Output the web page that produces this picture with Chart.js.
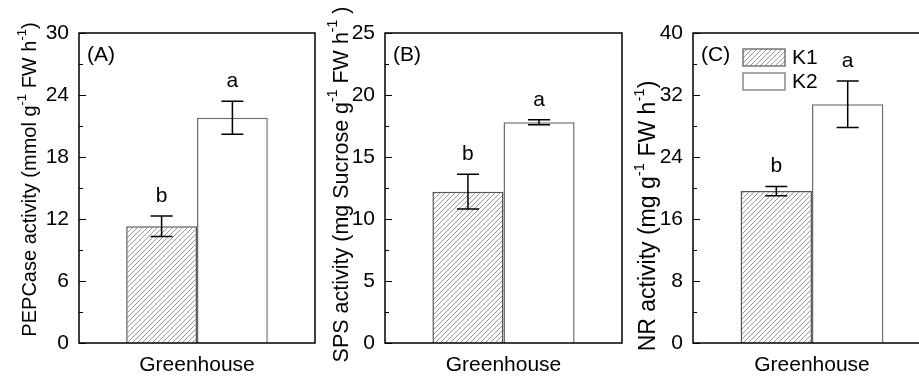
<!DOCTYPE html>
<html>
<head>
<meta charset="utf-8">
<script src="https://cdn.jsdelivr.net/npm/chart.js@4.4.1/dist/chart.umd.min.js"></script>
<style>
  html, body { margin: 0; padding: 0; background: #fff; }
  body { width: 919px; height: 381px; overflow: hidden; position: relative; }
  .panel { position: absolute; top: 0; }
</style>
</head>
<body>
<div class="panel" style="left:0px"><canvas id="chartA" width="318" height="381"></canvas></div>
<div class="panel" style="left:318px"><canvas id="chartB" width="308" height="381"></canvas></div>
<div class="panel" style="left:626px"><canvas id="chartC" width="310" height="381"></canvas></div>
<script>
// ── Données ──────────────────────────────────────────────────────────────────
const categories = ['Greenhouse'];
const seriesNames = ['K1', 'K2'];

const pepcaseMean = [11.3, 21.8];
const pepcaseErr  = [1.0, 1.6];
const pepcaseSig  = ['b', 'a'];

const spsMean = [12.2, 17.8];
const spsErr  = [1.4, 0.2];
const spsSig  = ['b', 'a'];

const nrMean = [19.6, 30.8];
const nrErr  = [0.6, 3.0];
const nrSig  = ['b', 'a'];

// titres d'axe : segments normal / exposant en alternance
const pepcaseTitle = ['PEPCase activity (mmol g', '-1', ' FW h', '-1', ')'];
const spsTitle     = ['SPS activity (mg Sucrose g', '-1', ' FW h', '-1', ' )'];
const nrTitle      = ['NR activity (mg g', '-1', ' FW h', '-1', ')'];

const pepcaseTicks = { max: 30, step: 6 };
const spsTicks     = { max: 25, step: 5 };
const nrTicks      = { max: 40, step: 8 };

const FONT = "'Liberation Sans', Arial, sans-serif";

// ── Hachures ────────────────────────────────────────────────────────────────
function hatchPattern() {
  const s = 5;
  const c = document.createElement('canvas');
  c.width = s;
  c.height = s;
  const g = c.getContext('2d');
  g.fillStyle = '#fff';
  g.fillRect(0, 0, s, s);
  g.strokeStyle = '#8a8a8a';
  g.lineWidth = 0.9;
  g.beginPath();
  g.moveTo(0, s); g.lineTo(s, 0);
  g.moveTo(-1, 1); g.lineTo(1, -1);
  g.moveTo(s - 1, s + 1); g.lineTo(s + 1, s - 1);
  g.stroke();
  return g.createPattern(c, 'repeat');
}
const hatch = hatchPattern();

// ── Plugin : cadre, graduations, barres d'erreur, lettres, titre ────────────
function panelPlugin(cfg) {
  return {
    id: 'panel' + cfg.tag,
    afterDatasetsDraw(chart) {
      const ctx = chart.ctx;
      const y = chart.scales.y;
      ctx.save();
      ctx.strokeStyle = '#000';
      ctx.lineWidth = 1.5;
      chart.data.datasets.forEach((ds, i) => {
        const bar = chart.getDatasetMeta(i).data[0];
        const top = y.getPixelForValue(cfg.mean[i] + cfg.err[i]);
        const bot = y.getPixelForValue(cfg.mean[i] - cfg.err[i]);
        ctx.beginPath();
        ctx.moveTo(bar.x, top); ctx.lineTo(bar.x, bot);
        ctx.moveTo(bar.x - 11, top); ctx.lineTo(bar.x + 11, top);
        ctx.moveTo(bar.x - 11, bot); ctx.lineTo(bar.x + 11, bot);
        ctx.stroke();

        ctx.fillStyle = '#000';
        ctx.font = '21px ' + FONT;
        ctx.textAlign = 'center';
        ctx.textBaseline = 'alphabetic';
        ctx.fillText(cfg.sig[i], bar.x, top - 14);
      });
      ctx.restore();
    },
    afterDraw(chart) {
      const ctx = chart.ctx;
      const a = chart.chartArea;
      const y = chart.scales.y;
      ctx.save();

      // cadre
      ctx.strokeStyle = '#000';
      ctx.lineWidth = 1.5;
      ctx.strokeRect(a.left, a.top, a.right - a.left, a.bottom - a.top);

      // graduations vers l'intérieur (majeures + mineures)
      ctx.lineWidth = 1.2;
      ctx.beginPath();
      for (let v = 0; v <= cfg.ticks.max; v += cfg.ticks.step / 2) {
        const py = Math.round(y.getPixelForValue(v)) + 0.5;
        const major = Math.abs(v / cfg.ticks.step - Math.round(v / cfg.ticks.step)) < 1e-6;
        ctx.moveTo(a.left, py);
        ctx.lineTo(a.left + (major ? 7 : 4), py);
      }
      ctx.stroke();

      // étiquette du panneau
      ctx.fillStyle = '#000';
      ctx.font = '21px ' + FONT;
      ctx.textAlign = 'left';
      ctx.textBaseline = 'alphabetic';
      ctx.fillText('(' + cfg.tag + ')', a.left + 8, a.top + 28);

      // titre de l'axe y avec exposants
      const fs = cfg.titleSize;
      const ss = Math.round(fs * 0.65);
      let total = 0;
      cfg.title.forEach((t, k) => {
        ctx.font = (k % 2 ? ss : fs) + 'px ' + FONT;
        total += ctx.measureText(t).width;
      });
      ctx.translate(cfg.titleX, cfg.titleY);
      ctx.rotate(-Math.PI / 2);
      let x = -total / 2;
      cfg.title.forEach((t, k) => {
        ctx.font = (k % 2 ? ss : fs) + 'px ' + FONT;
        ctx.fillText(t, x, k % 2 ? -fs * 0.5 : 0);
        x += ctx.measureText(t).width;
      });
      ctx.restore();

      // légende (panneau C)
      if (cfg.legend) {
        ctx.save();
        ctx.font = '21px ' + FONT;
        ctx.textBaseline = 'middle';
        ctx.fillStyle = '#000';
        chart.data.datasets.forEach((ds, i) => {
          const lx = a.left + 50;
          const ly = a.top + 16 + i * 24;
          ctx.fillStyle = ds.backgroundColor;
          ctx.fillRect(lx, ly, 42, 17);
          ctx.strokeStyle = ds.borderColor;
          ctx.lineWidth = 1.2;
          ctx.strokeRect(lx, ly, 42, 17);
          ctx.fillStyle = '#000';
          ctx.fillText(ds.label, lx + 49, ly + 9);
        });
        ctx.restore();
      }
    },
  };
}

// ── Construction d'un panneau ───────────────────────────────────────────────
function makePanel(id, cfg) {
  const canvas = document.getElementById(id);
  return new Chart(canvas.getContext('2d'), {
    type: 'bar',
    data: {
      labels: categories,
      datasets: [
        {
          label: seriesNames[0],
          data: [cfg.mean[0]],
          backgroundColor: hatch,
          borderColor: '#555',
          borderWidth: 1.5,
        },
        {
          label: seriesNames[1],
          data: [cfg.mean[1]],
          backgroundColor: '#fff',
          borderColor: '#6e6e6e',
          borderWidth: 1.5,
        },
      ],
    },
    options: {
      responsive: false,
      animation: false,
      devicePixelRatio: 1,
      categoryPercentage: 0.6,
      barPercentage: 1,
      layout: {
        padding: { top: 33, right: canvas.width - cfg.plotRight, left: 0, bottom: 0 },
      },
      plugins: {
        legend: { display: false },
        tooltip: { enabled: false },
      },
      scales: {
        x: {
          grid: { display: false, drawTicks: false },
          border: { display: false },
          ticks: { color: '#000', font: { family: FONT, size: 21 }, padding: 10 },
          afterFit: (s) => { s.height = canvas.height - 343; },
        },
        y: {
          min: 0,
          max: cfg.ticks.max,
          grid: { display: false, drawTicks: false },
          border: { display: false },
          ticks: {
            stepSize: cfg.ticks.step,
            color: '#000',
            font: { family: FONT, size: 21 },
            padding: 10,
          },
          afterFit: (s) => { s.width = cfg.plotLeft; },
        },
      },
    },
    plugins: [panelPlugin(cfg)],
  });
}

makePanel('chartA', {
  tag: 'A', mean: pepcaseMean, err: pepcaseErr, sig: pepcaseSig,
  title: pepcaseTitle, ticks: pepcaseTicks,
  plotLeft: 79, plotRight: 315,
  titleX: 36, titleY: 179.5, titleSize: 20,
});

makePanel('chartB', {
  tag: 'B', mean: spsMean, err: spsErr, sig: spsSig,
  title: spsTitle, ticks: spsTicks,
  plotLeft: 67, plotRight: 304,
  titleX: 30, titleY: 184.5, titleSize: 21.5,
});

makePanel('chartC', {
  tag: 'C', mean: nrMean, err: nrErr, sig: nrSig,
  title: nrTitle, ticks: nrTicks,
  plotLeft: 67, plotRight: 305,
  titleX: 29, titleY: 216, titleSize: 23,
  legend: true,
});
</script>
</body>
</html>
